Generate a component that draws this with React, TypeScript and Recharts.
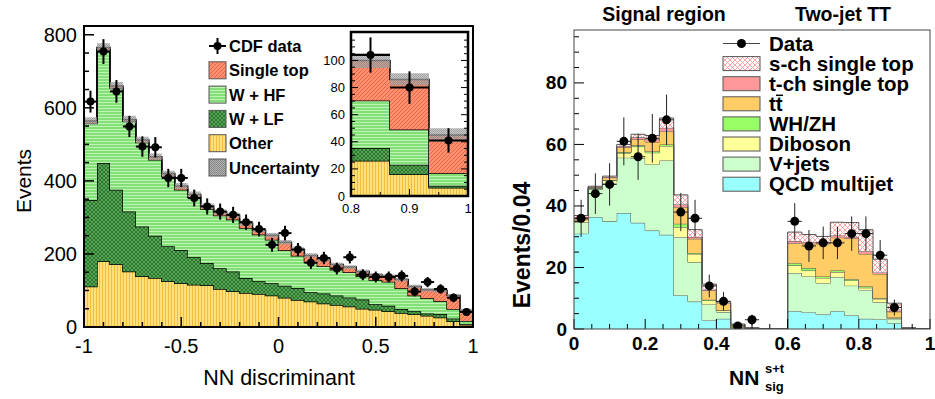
import React from "react";
import { ComposedChart, Area, Scatter, XAxis, YAxis, ErrorBar } from "recharts";

// left panel: CDF NN discriminant, 30 bins on [-1, 1]
const nnOther = [111, 180, 172, 152, 139, 134, 125, 120, 116, 114, 104, 98, 93, 90, 86, 80, 74, 70, 64, 60, 56, 50, 47, 43, 38, 35, 31, 26, 16, 6];
const nnWLF = [237, 269, 204, 164, 136, 116, 96, 91, 75, 61, 57, 54, 41, 35, 34, 33, 33, 25, 28, 26, 25, 25, 15, 15, 11, 8, 6, 9.5, 7, 1.6];
const nnWHF = [210, 310, 278, 247, 230, 208, 191, 165, 164, 148, 144, 142, 137, 128, 119, 97, 88, 82, 74, 71, 69, 64, 67, 66, 57, 43, 42, 35, 26, 9.1];
const nnSingleTop = [6, 6, 6, 5, 7, 8, 8, 10, 8, 8, 10, 12, 13, 12, 12, 22, 17, 19, 19, 14, 14, 13, 14, 15, 24, 25, 23, 29.5, 37, 28.3];
const nnUnc = [10, 12, 11, 10, 9, 9, 8, 8, 8, 7, 7, 7, 7, 6, 6, 6, 6, 6, 6, 5, 5, 5, 5, 5, 5, 5, 5, 5.5, 4.5, 5];
const nnData = [617, 754, 645, 549, 494, 492, 408, 408, 353, 330, 316, 307, 287, 268, 225, 257, 212, 176, 189, 160, 191, 143, 137, 137, 140, 97, 123, 104, 80, 41];
const nnDataErr = [30, 34, 31, 29, 28, 28, 25, 25, 23, 22, 22, 22, 21, 20, 19, 20, 18, 17, 17, 16, 17, 15, 15, 15, 15, 13, 14, 13, 12, 9];

// right panel: NN_sig^{s+t}, 25 bins of 0.04 on [0, 1]
const sigQCD = [31.0, 36.4, 35.0, 37.7, 34.5, 32.0, 30.6, 10.9, 8.9, 2.8, 3.3, 0.2, 0.1, 0, 0, 5.8, 5.4, 4.7, 5.8, 4.4, 3.3, 3.1, 1.9, 0.1, 0];
const sigVjets = [3.7, 9.0, 12.5, 18.0, 21.0, 21.5, 24.2, 19.0, 12.8, 5.2, 2.2, 0.3, 0.1, 0.1, 0, 12.4, 11.7, 10.2, 11.1, 9.7, 9.4, 5.6, 1.4, 0.1, 0];
const sigDiboson = [0.8, 0.3, 0.8, 1.5, 3.8, 3.8, 4.7, 3.2, 2.7, 1.3, 0.5, 0.1, 0, 0, 0, 2.5, 1.9, 1.7, 1.6, 1.7, 0.7, 1.1, 0.3, 0, 0];
const sigWHZH = [0.1, 0.1, 0.1, 0.3, 0.4, 0.4, 0.5, 1.1, 0.3, 0.2, 0.1, 0, 0, 0, 0, 0.7, 0.8, 0.5, 0.5, 0.4, 0.4, 0.2, 0.1, 0, 0];
const sigTTbar = [0.5, 0.3, 0.8, 1.5, 2.0, 3.1, 4.3, 5.4, 4.6, 3.0, 2.4, 0.8, 0.1, 0, 0, 6.5, 7.9, 10.6, 10.7, 13.2, 10.6, 7.9, 1.9, 0.1, 0];
const sigTch = [0.3, 0.1, 0.2, 0.4, 0.6, 0.9, 1.1, 0.9, 0.6, 0.3, 0.1, 0.1, 0, 0, 0, 0.7, 0.5, 0.5, 0.7, 0.6, 0.9, 0.5, 0.3, 0, 0];
const sigSch = [0.5, 0.2, 0.3, 0.6, 1.0, 1.2, 3.2, 3.1, 2.4, 1.8, 0.3, 0.1, 0.1, 0, 0, 2.9, 2.5, 1.9, 4.3, 4.6, 7.0, 4.3, 2.5, 0.1, 0];
const sigData = [36, 44, 47, 61, 56, 62, 68, 38, 36, 14, 9, 1, 3, null, null, 35, 27, 28, 28, 31, 31, 24, 7, null, null];
const sigDataErr = [6, 6.6, 6.9, 7.8, 7.5, 7.9, 8.2, 6.2, 6, 3.7, 3, 1, 1.7, 0, 0, 5.9, 5.2, 5.3, 5.3, 5.6, 5.6, 4.9, 2.6, 0, 0];

const leftLegend = ["CDF data", "Single top", "W + HF", "W + LF", "Other", "Uncertainty"];
const leftLegendFill = ["", "url(#pat-st)", "url(#pat-whf)", "url(#pat-wlf)", "url(#pat-other)", "url(#pat-unc)"];
const rightLegend = ["Data", "s-ch single top", "t-ch single top", "tt", "WH/ZH", "Diboson", "V+jets", "QCD multijet"];
const rightLegendFill = ["", "url(#pat-sch)", "#ff9999", "#ffcc66", "#99ff66", "#ffff99", "#ccffcc", "#99ffff"];

const nnEdges = Array.from({ length: 31 }, (_, i) => -1 + i / 15);
const nnRows = nnEdges.map((x, i) => {
  const j = Math.min(i, 29);
  const tot = nnOther[j] + nnWLF[j] + nnWHF[j] + nnSingleTop[j];
  return { x, other: nnOther[j], wlf: nnWLF[j], whf: nnWHF[j], st: nnSingleTop[j], band: [tot - nnUnc[j], tot + nnUnc[j]] };
});
const nnPoints = nnData.map((y, i) => ({ x: nnEdges[i] + 1 / 30, y, err: nnDataErr[i], xerr: 1 / 30 }));

const sigEdges = Array.from({ length: 26 }, (_, i) => i * 0.04);
const sigRows = sigEdges.map((x, i) => {
  const j = Math.min(i, 24);
  return { x, qcd: sigQCD[j], vjets: sigVjets[j], diboson: sigDiboson[j], wh: sigWHZH[j], tt: sigTTbar[j], tch: sigTch[j], sch: sigSch[j] };
});
const sigPoints = sigData
  .map((y, i) => (y == null ? null : { x: sigEdges[i] + 0.02, y, err: sigDataErr[i], xerr: 0.02 }))
  .filter((p) => p !== null);

const steps = (from: number, to: number, step: number) =>
  Array.from({ length: Math.round((to - from) / step) + 1 }, (_, i) => from + i * step);

const isMult = (v: number, step: number) => Math.abs(v / step - Math.round(v / step)) < 1e-6;
const fmt = (v: number) => String(Math.round(v * 1000) / 1000 || 0);

const FONT = "'Liberation Sans', Arial, Helvetica, sans-serif";

type TickCfg = {
  side: "left" | "right" | "bottom";
  major: number;
  majorLen: number;
  minorLen: number;
  size: number;
  bold?: boolean;
  offset: number;
  sw?: number;
  labels?: boolean;
};

const makeTick = (c: TickCfg) => (props: any) => {
  const { x, y, payload } = props;
  const v = payload.value;
  const major = isMult(v, c.major);
  const len = major ? c.majorLen : c.minorLen;
  const showLabel = c.labels !== false && major;
  const txt = { fontFamily: FONT, fontSize: c.size, fontWeight: c.bold ? 700 : 400, fill: "#000" };
  const sw = c.sw ?? 1;
  if (c.side === "left") {
    return (
      <g>
        <line x1={x} y1={y} x2={x + len} y2={y} stroke="#000" strokeWidth={sw} />
        {showLabel && (
          <text x={x - c.offset} y={y} textAnchor="end" dominantBaseline="central" style={txt}>
            {fmt(v)}
          </text>
        )}
      </g>
    );
  }
  if (c.side === "right") {
    return <line x1={x} y1={y} x2={x - len} y2={y} stroke="#000" strokeWidth={sw} />;
  }
  return (
    <g>
      <line x1={x} y1={y} x2={x} y2={y - len} stroke="#000" strokeWidth={sw} />
      {showLabel && (
        <text x={x} y={y + c.offset} textAnchor="middle" style={txt}>
          {fmt(v)}
        </text>
      )}
    </g>
  );
};

const dot = (r: number) => (p: any) => <circle cx={p.cx} cy={p.cy} r={r} fill="#000" />;

const axisCommon = { axisLine: false, tickLine: false, tickSize: 0, tickMargin: 0, interval: 0 as const, allowDataOverflow: true };

const Patterns = () => (
  <svg width={0} height={0} style={{ position: "absolute" }}>
    <defs>
      <pattern id="pat-other" width="3" height="3" patternUnits="userSpaceOnUse">
        <rect width="3" height="3" fill="#ffe07c" />
        <rect width="1" height="3" fill="#f2bd3a" />
      </pattern>
      <pattern id="pat-wlf" width="4" height="4" patternUnits="userSpaceOnUse">
        <rect width="4" height="4" fill="#52a552" />
        <path d="M0,4 L4,0 M0,0 L4,4" stroke="#2a6a2a" strokeWidth="0.8" />
      </pattern>
      <pattern id="pat-whf" width="3" height="3" patternUnits="userSpaceOnUse">
        <rect width="3" height="3" fill="#84df78" />
        <rect width="3" height="1" fill="#bdf5b2" />
      </pattern>
      <pattern id="pat-st" width="4" height="4" patternUnits="userSpaceOnUse">
        <rect width="4" height="4" fill="#fd9070" />
        <path d="M-1,1 L1,-1 M0,4 L4,0 M3,5 L5,3" stroke="#e8603c" strokeWidth="0.9" />
      </pattern>
      <pattern id="pat-unc" width="2" height="2" patternUnits="userSpaceOnUse">
        <rect width="2" height="2" fill="#b4b4b4" />
        <rect width="1" height="1" fill="#858585" />
        <rect x="1" y="1" width="1" height="1" fill="#858585" />
      </pattern>
      <pattern id="pat-sch" width="5" height="5" patternUnits="userSpaceOnUse">
        <rect width="5" height="5" fill="#ffffff" />
        <path d="M0,0 L5,5 M0,5 L5,0" stroke="#ff9a9a" strokeWidth="0.9" />
      </pattern>
    </defs>
  </svg>
);

const nnStack = (strokeW: number) => [
  <Area key="o" type="stepAfter" dataKey="other" stackId="mc" stroke="#000" strokeWidth={strokeW} fill="url(#pat-other)" fillOpacity={1} dot={false} activeDot={false} isAnimationActive={false} />,
  <Area key="l" type="stepAfter" dataKey="wlf" stackId="mc" stroke="#000" strokeWidth={strokeW} fill="url(#pat-wlf)" fillOpacity={1} dot={false} activeDot={false} isAnimationActive={false} />,
  <Area key="h" type="stepAfter" dataKey="whf" stackId="mc" stroke="#000" strokeWidth={strokeW} fill="url(#pat-whf)" fillOpacity={1} dot={false} activeDot={false} isAnimationActive={false} />,
  <Area key="s" type="stepAfter" dataKey="st" stackId="mc" stroke="#000" strokeWidth={strokeW} fill="url(#pat-st)" fillOpacity={1} dot={false} activeDot={false} isAnimationActive={false} />,
  <Area key="u" type="stepAfter" dataKey="band" stroke="none" fill="url(#pat-unc)" fillOpacity={0.75} dot={false} activeDot={false} isAnimationActive={false} />,
];

const sigKeys = [
  { k: "qcd", fill: "#99ffff" },
  { k: "vjets", fill: "#ccffcc" },
  { k: "diboson", fill: "#ffff99" },
  { k: "wh", fill: "#99ff66" },
  { k: "tt", fill: "#ffcc66" },
  { k: "tch", fill: "#ff9999" },
  { k: "sch", fill: "url(#pat-sch)" },
];

export default function App() {
  return (
    <div style={{ position: "absolute", left: 0, top: 0, width: 935, height: 399, background: "#fff", overflow: "hidden" }}>
      <Patterns />

      {/* left main */}
      <div style={{ position: "absolute", left: 0, top: 0 }}>
        <ComposedChart width={480} height={399} data={nnRows} margin={{ top: 26, right: 7, bottom: 0, left: 0 }}>
          <XAxis dataKey="x" type="number" domain={[-1, 1]} ticks={steps(-1, 1, 0.1)} height={72}
            tick={makeTick({ side: "bottom", major: 0.5, majorLen: 10, minorLen: 5, size: 20, offset: 26, sw: 1.5 })} {...axisCommon} />
          <YAxis type="number" domain={[0, 824]} ticks={steps(0, 800, 50)} width={84}
            tick={makeTick({ side: "left", major: 200, majorLen: 10, minorLen: 5, size: 20, offset: 7, sw: 1.5 })} {...axisCommon} />
          {nnStack(1.5)}
          <Scatter data={nnPoints} dataKey="y" shape={dot(4)} isAnimationActive={false}>
            <ErrorBar dataKey="err" direction="y" width={0} stroke="#000" strokeWidth={2} />
            <ErrorBar dataKey="xerr" direction="x" width={0} stroke="#000" strokeWidth={2} />
          </Scatter>
        </ComposedChart>
      </div>

      {/* inset */}
      <div style={{ position: "absolute", left: 351, top: 32, width: 117, height: 164, background: "#fff" }} />
      <div style={{ position: "absolute", left: 300, top: 20 }}>
        <ComposedChart width={175} height={200} data={nnRows.slice(27)} margin={{ top: 12, right: 6, bottom: 0, left: 0 }}>
          <XAxis dataKey="x" type="number" domain={[0.8, 1]} ticks={steps(0.8, 1, 0.05)} height={24}
            tick={makeTick({ side: "bottom", major: 0.1, majorLen: 7, minorLen: 4, size: 13, offset: 17 })} {...axisCommon} />
          <YAxis type="number" domain={[0, 121]} ticks={steps(0, 115, 5)} width={51}
            tick={makeTick({ side: "left", major: 20, majorLen: 7, minorLen: 4, size: 13, offset: 6 })} {...axisCommon} />
          <YAxis yAxisId="r" orientation="right" type="number" domain={[0, 121]} ticks={steps(0, 115, 5)} width={1}
            tick={makeTick({ side: "right", major: 20, majorLen: 7, minorLen: 4, size: 13, offset: 4, labels: false })} {...axisCommon} />
          {nnStack(1.5)}
          <Scatter data={nnPoints.slice(27)} dataKey="y" shape={dot(4)} isAnimationActive={false}>
            <ErrorBar dataKey="err" direction="y" width={0} stroke="#000" strokeWidth={2} />
            <ErrorBar dataKey="xerr" direction="x" width={0} stroke="#000" strokeWidth={2} />
          </Scatter>
        </ComposedChart>
      </div>

      {/* right */}
      <div style={{ position: "absolute", left: 480, top: 0 }}>
        <ComposedChart width={455} height={399} data={sigRows} margin={{ top: 30, right: 5, bottom: 0, left: 0 }}>
          <XAxis dataKey="x" type="number" domain={[0, 1]} ticks={steps(0, 1, 0.05)} height={70}
            tick={makeTick({ side: "bottom", major: 0.2, majorLen: 10, minorLen: 5, size: 19, bold: true, offset: 21 })} {...axisCommon} />
          <YAxis type="number" domain={[0, 97.2]} ticks={steps(0, 95, 5)} width={94}
            tick={makeTick({ side: "left", major: 20, majorLen: 10, minorLen: 5, size: 19, bold: true, offset: 7 })} {...axisCommon} />
          {sigKeys.map((s) => (
            <Area key={s.k} type="stepAfter" dataKey={s.k} stackId="mc" stroke="#555" strokeWidth={1} fill={s.fill} fillOpacity={1} dot={false} activeDot={false} isAnimationActive={false} />
          ))}
          <Scatter data={sigPoints} dataKey="y" shape={dot(4.5)} isAnimationActive={false}>
            <ErrorBar dataKey="err" direction="y" width={0} stroke="#222" strokeWidth={1} />
            <ErrorBar dataKey="xerr" direction="x" width={0} stroke="#222" strokeWidth={1} />
          </Scatter>
        </ComposedChart>
      </div>

      {/* frames, labels and legends */}
      <svg width={935} height={399} style={{ position: "absolute", left: 0, top: 0, pointerEvents: "none" }}>
        <rect x={84} y={26} width={389} height={301} fill="none" stroke="#000" strokeWidth={2} />
        <rect x={351} y={32} width={117} height={164} fill="none" stroke="#000" strokeWidth={2.5} />
        <rect x={574} y={30} width={356} height={299} fill="none" stroke="#444" strokeWidth={1} />

        <text transform="translate(31,181) rotate(-90)" textAnchor="middle" style={{ fontFamily: FONT, fontSize: 21 }}>Events</text>
        <text x={279} y={385} textAnchor="middle" style={{ fontFamily: FONT, fontSize: 21.5 }}>NN discriminant</text>

        {leftLegend.map((lab, i) => {
          const cy = 46 + i * 24.3;
          return (
            <g key={lab}>
              {i === 0 ? (
                <g>
                  <line x1={209} y1={cy} x2={226} y2={cy} stroke="#000" strokeWidth={2} />
                  <line x1={217.5} y1={cy - 8} x2={217.5} y2={cy + 8} stroke="#000" strokeWidth={2} />
                  <circle cx={217.5} cy={cy} r={4} fill="#000" />
                </g>
              ) : (
                <rect x={209} y={cy - 8.5} width={17} height={17} fill={leftLegendFill[i]} stroke="#555" strokeWidth={1} />
              )}
              <text x={229} y={cy + 6} style={{ fontFamily: FONT, fontSize: 16.5, fontWeight: 700 }}>{lab}</text>
            </g>
          );
        })}

        <text x={664} y={21} textAnchor="middle" style={{ fontFamily: FONT, fontSize: 19.5, fontWeight: 700 }}>Signal region</text>
        <text x={843} y={21} textAnchor="middle" style={{ fontFamily: FONT, fontSize: 19.5, fontWeight: 700 }}>Two-jet TT</text>
        <text transform="translate(530,245) rotate(-90)" textAnchor="middle" style={{ fontFamily: FONT, fontSize: 23, fontWeight: 700 }}>Events/0.04</text>
        <text x={729} y={385} style={{ fontFamily: FONT, fontSize: 21, fontWeight: 700 }}>NN</text>
        <text x={765} y={373} style={{ fontFamily: FONT, fontSize: 13, fontWeight: 700 }}>s+t</text>
        <text x={765} y={391} style={{ fontFamily: FONT, fontSize: 13, fontWeight: 700 }}>sig</text>

        {rightLegend.map((lab, i) => {
          const cy = 43.5 + i * 20.1;
          return (
            <g key={lab}>
              {i === 0 ? (
                <g>
                  <line x1={723} y1={cy} x2={760} y2={cy} stroke="#444" strokeWidth={1} />
                  <circle cx={741.5} cy={cy} r={4.5} fill="#000" />
                </g>
              ) : (
                <rect x={723} y={cy - 7} width={37} height={14} fill={rightLegendFill[i]} stroke="#555" strokeWidth={1} />
              )}
              <text x={769} y={cy + 7} style={{ fontFamily: FONT, fontSize: 20.5, fontWeight: 700 }}>{lab}</text>
              {lab === "tt" && <line x1={776} y1={cy - 8.5} x2={783} y2={cy - 8.5} stroke="#000" strokeWidth={1.5} />}
            </g>
          );
        })}
      </svg>
    </div>
  );
}
